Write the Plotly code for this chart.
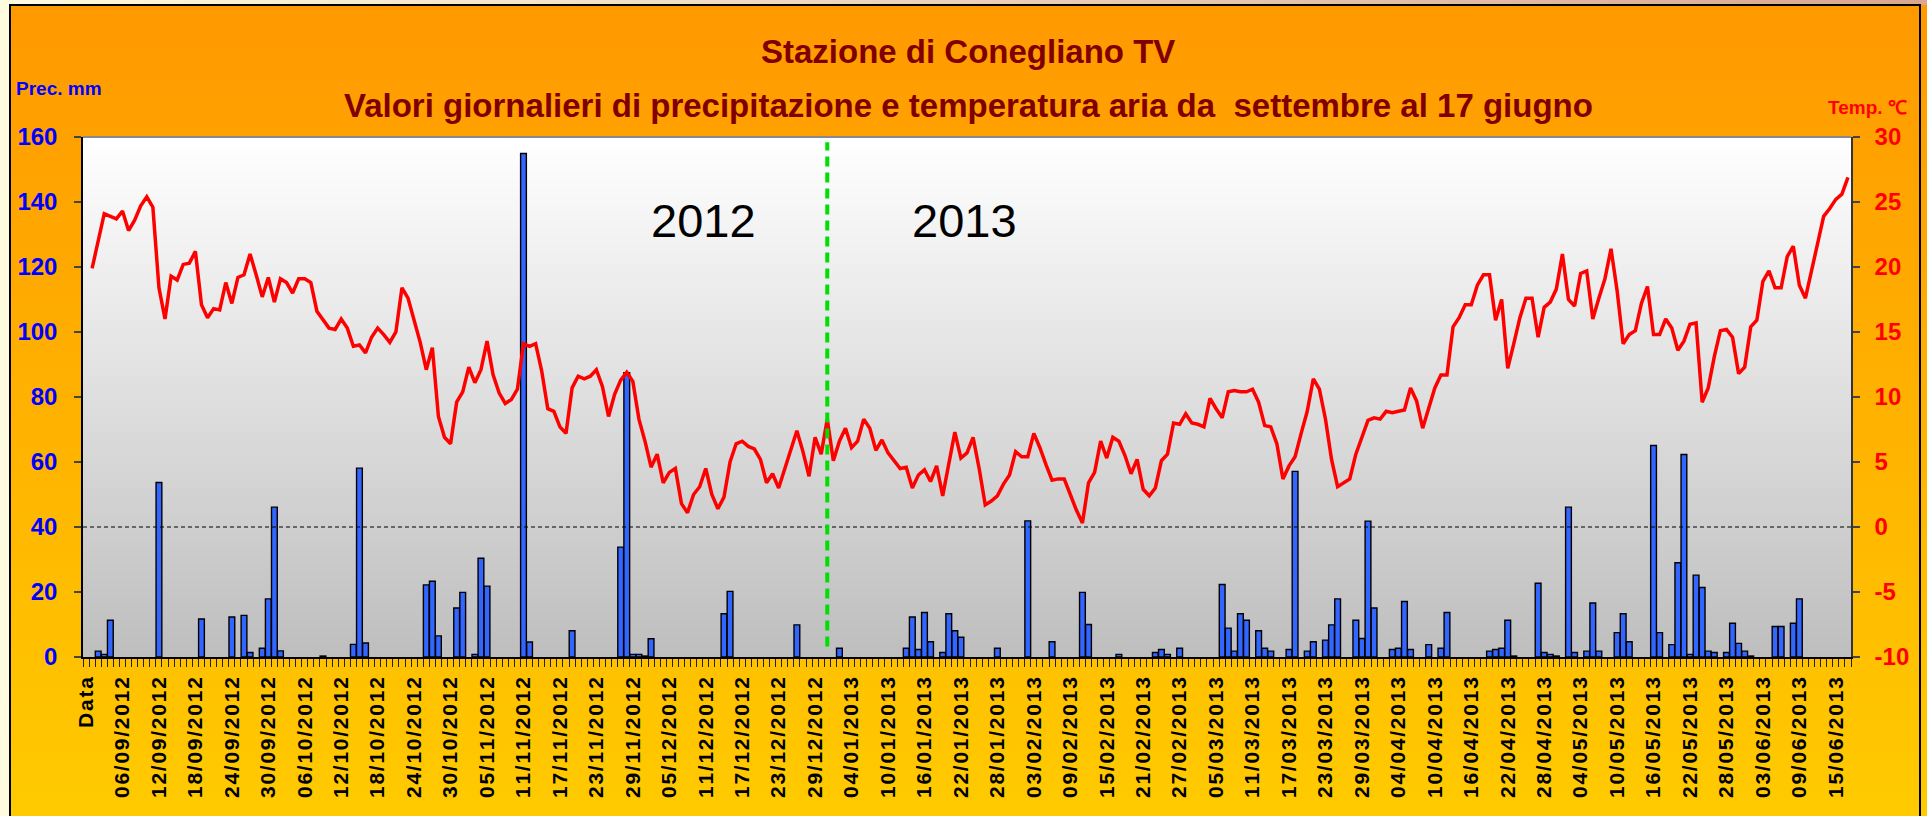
import base64
import pandas as pd
import plotly.graph_objects as go

# ---------------- data ----------------
temp_sep = [19.9, 22.1, 24.1, 23.9, 23.7, 24.3, 22.8, 23.6, 24.7, 25.4,
            24.6, 18.4, 16.0, 19.3, 19.0, 20.2, 20.3, 21.2, 17.1, 16.1,
            16.8, 16.7, 18.8, 17.2, 19.2, 19.4, 21.0, 19.4, 17.7, 19.2]
temp_oct = [17.3, 19.1, 18.8, 18.0, 19.1, 19.1, 18.8, 16.6, 16.0, 15.3,
            15.2, 16.0, 15.3, 13.9, 14.0, 13.4, 14.6, 15.3, 14.8, 14.2,
            15.0, 18.4, 17.6, 16.0, 14.2, 12.1, 13.8, 8.5, 6.9, 6.4, 9.6]
temp_nov = [10.4, 12.3, 11.1, 12.1, 14.3, 11.7, 10.3, 9.5, 9.8, 10.6,
            14.1, 13.9, 14.1, 12.0, 9.1, 8.9, 7.7, 7.2, 10.7, 11.6,
            11.4, 11.6, 12.1, 10.8, 8.5, 10.2, 11.3, 11.9, 11.2, 8.3]
temp_dec = [6.6, 4.6, 5.6, 3.4, 4.2, 4.5, 1.8, 1.1, 2.5, 3.1,
            4.5, 2.5, 1.4, 2.3, 5.0, 6.4, 6.6, 6.2, 6.0, 5.2,
            3.4, 4.1, 3.0, 4.5, 6.1, 7.4, 5.8, 3.9, 6.9, 5.6, 8.3]
temp_jan = [5.1, 6.6, 7.6, 6.1, 6.6, 8.3, 7.6, 5.9, 6.7, 5.7,
            5.1, 4.5, 4.6, 3.0, 4.0, 4.4, 3.5, 4.7, 2.4, 4.8,
            7.3, 5.3, 5.7, 6.9, 4.5, 1.7, 2.0, 2.4, 3.3, 4.0, 5.8]
temp_feb = [5.4, 5.4, 7.2, 6.1, 4.8, 3.6, 3.7, 3.7, 2.5, 1.3,
            0.3, 3.4, 4.2, 6.6, 5.3, 6.9, 6.6, 5.5, 4.1, 5.2,
            2.9, 2.4, 3.0, 5.1, 5.6, 8.0, 7.9, 8.7]
temp_mar = [8.0, 7.9, 7.7, 9.9, 9.1, 8.4, 10.4, 10.5, 10.4, 10.4,
            10.6, 9.6, 7.8, 7.7, 6.4, 3.7, 4.7, 5.4, 7.2, 8.9,
            11.4, 10.6, 8.3, 5.2, 3.1, 3.4, 3.7, 5.6, 7.0, 8.2, 8.4]
temp_apr = [8.3, 8.9, 8.8, 8.9, 9.0, 10.7, 9.7, 7.6, 9.2, 10.7,
            11.7, 11.7, 15.4, 16.1, 17.1, 17.1, 18.6, 19.4, 19.4, 15.9,
            17.5, 12.2, 14.1, 16.1, 17.6, 17.6, 14.6, 16.9, 17.3, 18.3]
temp_may = [21.0, 17.5, 17.0, 19.5, 19.7, 16.0, 17.6, 19.1, 21.4, 18.2,
            14.1, 14.8, 15.1, 17.2, 18.5, 14.8, 14.8, 16.0, 15.3, 13.6,
            14.3, 15.6, 15.7, 9.6, 10.7, 13.1, 15.1, 15.2, 14.6, 11.8, 12.3]
temp_jun = [15.4, 15.9, 18.9, 19.7, 18.4, 18.4, 20.8, 21.6, 18.6, 17.6,
            19.7, 21.8, 23.9, 24.5, 25.2, 25.6, 26.9]

prec_sep = [0, 1.8, 0.8, 11.3, 0, 0, 0, 0, 0, 0,
            0, 53.7, 0, 0, 0, 0, 0, 0, 11.7, 0,
            0, 0, 0, 12.3, 0, 12.8, 1.4, 0, 2.7, 17.9]
prec_oct = [46.1, 1.9, 0, 0, 0, 0, 0, 0, 0.3, 0,
            0, 0, 0, 3.9, 58.1, 4.3, 0, 0, 0, 0,
            0, 0, 0, 0, 0, 22.2, 23.3, 6.5, 0, 0, 15.1]
prec_nov = [19.9, 0, 0.8, 30.4, 21.8, 0, 0, 0, 0, 0,
            154.9, 4.6, 0, 0, 0, 0, 0, 0, 8.1, 0,
            0, 0, 0, 0, 0, 0, 33.8, 87.5, 0.8, 0.8]
prec_dec = [0.3, 5.6, 0, 0, 0, 0, 0, 0, 0, 0,
            0, 0, 0, 13.3, 20.2, 0, 0, 0, 0, 0,
            0, 0, 0, 0, 0, 9.9, 0, 0, 0, 0, 0]
prec_jan = [0, 2.7, 0, 0, 0, 0, 0, 0, 0, 0,
            0, 0, 2.7, 12.3, 2.3, 13.7, 4.7, 0, 1.4, 13.3,
            8.1, 6.1, 0, 0, 0, 0, 0, 2.7, 0, 0, 0]
prec_feb = [0, 41.9, 0, 0, 0, 4.7, 0, 0, 0, 0,
            19.9, 10.0, 0, 0, 0, 0, 0.8, 0, 0, 0,
            0, 0, 1.4, 2.3, 0.8, 0, 2.7, 0]
prec_mar = [0, 0, 0, 0, 0, 22.3, 8.9, 1.8, 13.3, 11.3,
            0, 8.1, 2.7, 1.8, 0, 0, 2.3, 57.1, 0, 1.8,
            4.7, 0, 5.2, 9.9, 17.9, 0, 0, 11.3, 5.7, 41.8, 15.1]
prec_apr = [0, 0, 2.3, 2.7, 17.1, 2.3, 0, 0, 3.8, 0,
            2.7, 13.7, 0, 0, 0, 0, 0, 0, 1.8, 2.3,
            2.7, 11.3, 0.3, 0, 0, 0, 22.7, 1.4, 0.8, 0.3]
prec_may = [0, 46.1, 1.4, 0, 1.8, 16.6, 1.8, 0, 0, 7.5,
            13.3, 4.7, 0, 0, 0, 65.1, 7.5, 0, 3.8, 29.0,
            62.3, 0.8, 25.2, 21.4, 1.8, 1.4, 0, 1.4, 10.4, 4.2, 1.8]
prec_jun = [0.3, 0, 0, 0, 9.4, 9.4, 0, 10.4, 17.9, 0,
            0, 0, 0, 0, 0, 0, 0]

dates = pd.date_range("2012-09-01", "2013-06-17", freq="D").strftime("%d/%m/%Y").tolist()
categories = ["Data"] + dates

temperature = (temp_sep + temp_oct + temp_nov + temp_dec + temp_jan + temp_feb
               + temp_mar + temp_apr + temp_may + temp_jun)
precipitation = (prec_sep + prec_oct + prec_nov + prec_dec + prec_jan + prec_feb
                 + prec_mar + prec_apr + prec_may + prec_jun)
assert len(temperature) == len(dates) == len(precipitation)

prec_ticks = list(range(0, 161, 20))
temp_ticks = list(range(-10, 31, 5))
label_step = 6
year_texts = ["2012", "2013"]
year_change = "31/12/2012"

title1 = "Stazione di Conegliano TV"
title2 = "Valori giornalieri di precipitazione e temperatura aria da  settembre al 17 giugno"

# ---------------- styling helpers ----------------
W, H = 1927, 816
ML, MR, MT, MB = 83, 76, 137, 159
PW, PH = W - ML - MR, H - MT - MB


def px_x(px):
    return (px - ML) / PW


def px_y(py):
    return 1 - (py - MT) / PH


def grad(c1, c2, horizontal=False):
    x2, y2 = ("1", "0") if horizontal else ("0", "1")
    svg = ('<svg xmlns="http://www.w3.org/2000/svg" width="100" height="100" '
           'preserveAspectRatio="none"><defs><linearGradient id="g" x1="0" y1="0" '
           f'x2="{x2}" y2="{y2}"><stop offset="0" stop-color="{c1}"/>'
           f'<stop offset="1" stop-color="{c2}"/></linearGradient></defs>'
           '<rect width="100" height="100" fill="url(#g)"/></svg>')
    return "data:image/svg+xml;base64," + base64.b64encode(svg.encode()).decode()


FONT = "Liberation Sans, Arial, sans-serif"

ticktext = ["\u200a".join(c) if i % label_step == 0 else "" for i, c in enumerate(categories)]
temp_ticktext = [str(t) for t in temp_ticks]

bar_y = [None] + [v if v > 0 else None for v in precipitation]
line_y = [None] + temperature

fig = go.Figure()
fig.add_trace(go.Bar(
    x=categories, y=bar_y, yaxis="y",
    marker=dict(color="#3366FF", line=dict(color="#000000", width=1.4)),
    hoverinfo="x+y", name="Prec. mm"))
fig.add_trace(go.Scatter(
    x=categories, y=line_y, yaxis="y2", mode="lines",
    line=dict(color="#FF0000", width=3.5), name="Temp.", connectgaps=False))

annotations = [
    dict(text=title1, x=px_x(968), y=px_y(52), xref="paper", yref="paper",
         xanchor="center", yanchor="middle", showarrow=False,
         font=dict(family=FONT, size=33, color="#800000", weight="bold")),
    dict(text=title2, x=px_x(968), y=px_y(105), xref="paper", yref="paper",
         xanchor="center", yanchor="middle", showarrow=False,
         font=dict(family=FONT, size=33, color="#800000", weight="bold")),
    dict(text="Prec. mm", x=px_x(14), y=px_y(89), xref="paper", yref="paper",
         xanchor="left", yanchor="middle", showarrow=False,
         font=dict(family=FONT, size=19, color="#0000FF", weight="bold")),
    dict(text="Temp. \u2103", x=px_x(1826), y=px_y(107), xref="paper", yref="paper",
         xanchor="left", yanchor="middle", showarrow=False,
         font=dict(family=FONT, size=19, color="#FF0000", weight="bold")),
    dict(text=year_texts[0], x=px_x(703), y=px_y(220), xref="paper", yref="paper",
         xanchor="center", yanchor="middle", showarrow=False,
         font=dict(family=FONT, size=47, color="#000000")),
    dict(text=year_texts[1], x=px_x(964), y=px_y(220), xref="paper", yref="paper",
         xanchor="center", yanchor="middle", showarrow=False,
         font=dict(family=FONT, size=47, color="#000000")),
]

shapes = [
    # outer panel border
    dict(type="rect", xref="paper", yref="paper", x0=px_x(10), x1=px_x(1920),
         y0=px_y(830), y1=px_y(5), line=dict(color="#000000", width=2),
         fillcolor="rgba(0,0,0,0)", layer="below"),
    # top border of plot area
    dict(type="line", xref="x domain", yref="y domain", x0=0, x1=1, y0=1, y1=1,
         line=dict(color="#8A8A8A", width=2)),
    # dashed zero-temperature line
    dict(type="line", xref="x domain", yref="y2", x0=0, x1=1, y0=0, y1=0,
         line=dict(color="#000000", width=1, dash="4px,3px")),
    # year change marker
    dict(type="line", xref="x", yref="y domain",
         x0=categories.index(year_change), x1=categories.index(year_change),
         y0=0.02, y1=0.99, line=dict(color="#00E000", width=4, dash="10px,6px")),
]

images = [
    dict(source=grad("#FFFBDE", "#D9A88E", horizontal=True), xref="paper", yref="paper",
         x=px_x(0), y=px_y(0), sizex=W / PW, sizey=H / PH, sizing="stretch",
         xanchor="left", yanchor="top", layer="below"),
    dict(source=grad("#FF9900", "#FFCC00"), xref="paper", yref="paper",
         x=px_x(10), y=px_y(5), sizex=(W - 10) / PW, sizey=(H + 20) / PH, sizing="stretch",
         xanchor="left", yanchor="top", layer="below"),
    dict(source=grad("#FFFFFF", "#BEBEBE"), xref="paper", yref="paper",
         x=0, y=1, sizex=1, sizey=1, sizing="stretch",
         xanchor="left", yanchor="top", layer="below"),
]

fig.update_layout(
    width=W, height=H,
    margin=dict(l=ML, r=MR, t=MT, b=MB, pad=0, autoexpand=False),
    paper_bgcolor="#FFF8DA", plot_bgcolor="rgba(0,0,0,0)",
    showlegend=False, bargap=0.05,
    annotations=annotations, shapes=shapes, images=images,
    xaxis=dict(type="category", categoryorder="array", categoryarray=categories,
               range=[-0.5, len(categories) - 0.5], automargin=False,
               tickmode="array", tickvals=categories, ticktext=ticktext,
               tickson="boundaries", ticks="outside", ticklen=8, tickwidth=1,
               tickcolor="#222222", tickangle=-90, ticklabelstandoff=10,
               tickfont=dict(family=FONT, size=21, color="#000000", weight="bold"),
               showline=True, linecolor="#000000", linewidth=1.5,
               showgrid=False, zeroline=False),
    yaxis=dict(range=[0, 160], tickmode="array", tickvals=prec_ticks, automargin=False,
               ticks="outside", ticklen=7, tickwidth=1.5, tickcolor="#444444",
               ticklabelstandoff=12,
               tickfont=dict(family=FONT, size=24, color="#0000FF", weight="bold"),
               showline=True, linecolor="#000000", linewidth=1.5,
               showgrid=False, zeroline=False),
    yaxis2=dict(range=[-10, 30], tickmode="array", tickvals=temp_ticks,
                ticktext=temp_ticktext, automargin=False,
                overlaying="y", side="right", anchor="x",
                ticks="outside", ticklen=7, tickwidth=1.5, tickcolor="#444444",
                ticklabelstandoff=10,
                tickfont=dict(family=FONT, size=24, color="#FF0000", weight="bold"),
                showline=True, linecolor="#333333", linewidth=1.5,
                showgrid=False, zeroline=False),
)

fig.write_html("out.html", config={"displayModeBar": False},
               post_script="document.body.style.margin='0';document.body.style.overflow='hidden';")
